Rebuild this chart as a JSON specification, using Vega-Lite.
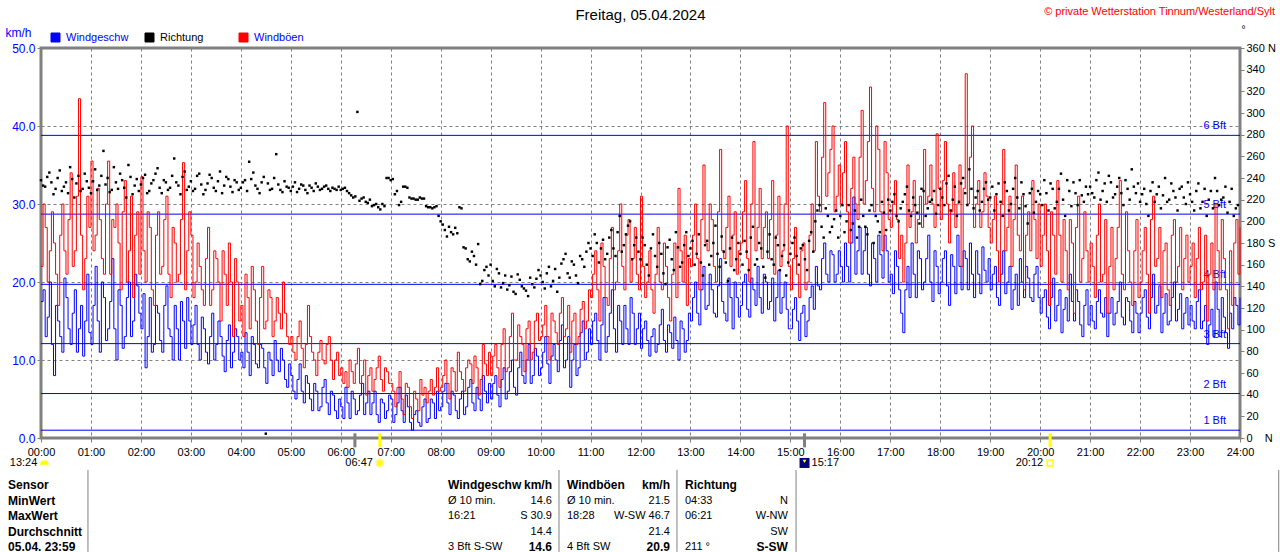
{
  "$schema": "https://vega.github.io/schema/vega-lite/v6.json",
  "description": "Wind 05.04.2024, Tinnum/Westerland/Sylt",
  "width": 1199,
  "height": 390,
  "autosize": "none",
  "padding": {"left": 41, "top": 48, "right": 40, "bottom": 114},
  "background": "#ffffff",
  "config": {
    "font": "Liberation Sans",
    "view": {"stroke": "#808080", "strokeWidth": 3},
    "axis": {
      "domain": false,
      "tickColor": "#808080",
      "tickSize": 4,
      "labelFont": "Liberation Sans",
      "labelFontSize": 11,
      "labelColor": "#000000",
      "labelFlush": false,
      "labelOverlap": false,
      "gridColor": "#808080",
      "gridDash": [3, 3],
      "gridOpacity": 1,
      "gridWidth": 1,
      "titleFont": "Liberation Sans",
      "titleFontWeight": "normal"
    }
  },
  "data": {"values": [{}]},
  "datasets": {
    "bft": [
      {"b": "1 Bft", "v": 1},
      {"b": "2 Bft", "v": 5.7},
      {"b": "3 Bft", "v": 12.1},
      {"b": "4 Bft", "v": 19.7},
      {"b": "5 Bft", "v": 28.7},
      {"b": "6 Bft", "v": 38.8}
    ],
    "events": [
      {"t": 377, "kind": "Mond"},
      {"t": 917, "kind": "Mond"},
      {"t": 407, "kind": "Sonne"},
      {"t": 1212, "kind": "Sonne"}
    ],
    "labels": [
      {"t": 4, "txt": "13:24"},
      {"t": 407, "txt": "06:47"},
      {"t": 917, "txt": "15:17"},
      {"t": 1212, "txt": "20:12"}
    ],
    "table": [
      {"row": "Sensor", "wgL": "Windgeschw", "wgR": "km/h", "wbL": "Windböen", "wbR": "km/h", "rL": "Richtung", "rR": ""},
      {"row": "MinWert", "wgL": "Ø 10 min.", "wgR": "14.6", "wbL": "Ø 10 min.", "wbR": "21.5", "rL": "\u00a004:33", "rR": "N"},
      {"row": "MaxWert", "wgL": "\u00a0\u00a016:21", "wgR": "S 30.9", "wbL": "\u00a018:28", "wbR": "W-SW 46.7", "rL": "\u00a006:21", "rR": "W-NW"},
      {"row": "Durchschnitt", "wgL": "", "wgR": "14.4", "wbL": "", "wbR": "21.4", "rL": "", "rR": "SW"},
      {"row": "05.04. 23:59", "wgL": "\u00a0\u00a03 Bft S-SW", "wgR": "14.6", "wbL": "\u00a04 Bft SW", "wbR": "20.9", "rL": "\u00a0211 °", "rR": "S-SW"}
    ],
    "wind": [
      {"m":0,"s":17.5,"g":22,"d":238},{"m":5,"s":13,"g":27,"d":232},{"m":10,"s":20,"g":24,"d":245},{"m":15,"s":8,"g":25,"d":225},
      {"m":20,"s":15,"g":17,"d":240},{"m":25,"s":11,"g":30,"d":228},{"m":30,"s":18,"g":21,"d":236},{"m":35,"s":12,"g":34,"d":250},
      {"m":40,"s":19,"g":24,"d":222},{"m":45,"s":14,"g":43.5,"d":242},{"m":50,"s":10.5,"g":19,"d":230},{"m":55,"s":21,"g":31,"d":237},
      {"m":60,"s":12,"g":35.5,"d":226},{"m":65,"s":22,"g":26,"d":248},{"m":70,"s":11,"g":28,"d":233},{"m":75,"s":18,"g":21,"d":265},
      {"m":80,"s":14,"g":35.5,"d":240},{"m":85,"s":23,"g":28,"d":229},{"m":90,"s":10,"g":30,"d":236},{"m":95,"s":17,"g":19,"d":244},
      {"m":100,"s":13,"g":33,"d":231},{"m":105,"s":20,"g":24,"d":252},{"m":110,"s":15,"g":18,"d":225},{"m":115,"s":19.5,"g":29,"d":239},
      {"m":120,"s":14,"g":33.5,"d":234},{"m":125,"s":9,"g":20,"d":243},{"m":130,"s":18,"g":27,"d":228},{"m":135,"s":12,"g":17,"d":238},
      {"m":140,"s":16,"g":29,"d":249},{"m":145,"s":11,"g":22,"d":226},{"m":150,"s":19.5,"g":31,"d":236},{"m":155,"s":13,"g":18,"d":231},
      {"m":160,"s":17,"g":25,"d":258},{"m":165,"s":10,"g":21,"d":233},{"m":170,"s":15,"g":35.3,"d":241},{"m":175,"s":18,"g":24,"d":229},
      {"m":180,"s":12,"g":26,"d":237},{"m":185,"s":17,"g":20,"d":230},{"m":190,"s":10,"g":22,"d":244},{"m":195,"s":14,"g":17,"d":225},
      {"m":200,"s":9.5,"g":27,"d":235},{"m":205,"s":16,"g":19,"d":240},{"m":210,"s":12,"g":23,"d":228},{"m":215,"s":13,"g":15,"d":246},
      {"m":220,"s":8.5,"g":21,"d":233},{"m":225,"s":14.5,"g":25,"d":239},{"m":230,"s":11,"g":13,"d":227},{"m":235,"s":13,"g":20,"d":236},
      {"m":240,"s":11,"g":17,"d":231},{"m":245,"s":13.5,"g":21,"d":238},{"m":250,"s":8,"g":14,"d":255},{"m":255,"s":12,"g":19,"d":245},
      {"m":260,"s":9,"g":12,"d":230},{"m":265,"s":11.5,"g":22,"d":236},{"m":270,"s":7,"g":15,"d":4},{"m":275,"s":10,"g":18,"d":229},
      {"m":280,"s":12.5,"g":15,"d":240},{"m":285,"s":8.5,"g":16,"d":234},{"m":290,"s":10,"g":20,"d":227},{"m":295,"s":6.5,"g":13,"d":232},
      {"m":300,"s":8,"g":13,"d":228},{"m":305,"s":5,"g":10,"d":236},{"m":310,"s":9.5,"g":15,"d":230},{"m":315,"s":4.5,"g":9,"d":233},
      {"m":320,"s":7,"g":17,"d":226},{"m":325,"s":3.5,"g":11,"d":231},{"m":330,"s":6,"g":8,"d":235},{"m":335,"s":4,"g":12.5,"d":229},
      {"m":340,"s":7.5,"g":9.5,"d":232},{"m":345,"s":3,"g":13,"d":230},{"m":350,"s":5.5,"g":7.5,"d":231},{"m":355,"s":2.5,"g":11,"d":229},
      {"m":360,"s":4,"g":9,"d":229},{"m":365,"s":6.5,"g":8.5,"d":231},{"m":370,"s":2.5,"g":10,"d":226},{"m":375,"s":5,"g":7,"d":222},
      {"m":380,"s":3.5,"g":11.5,"d":301},{"m":385,"s":7,"g":8,"d":221},{"m":390,"s":4.5,"g":5.5,"d":218},{"m":395,"s":3,"g":9,"d":220},
      {"m":400,"s":6,"g":7.5,"d":215},{"m":405,"s":2,"g":10.5,"d":213},{"m":410,"s":4.5,"g":6,"d":216},{"m":415,"s":3.5,"g":8.5,"d":240},
      {"m":420,"s":5,"g":7,"d":238},{"m":425,"s":3,"g":4,"d":225},{"m":430,"s":6.5,"g":8.5,"d":215},{"m":435,"s":2,"g":3,"d":232},
      {"m":440,"s":4,"g":6.5,"d":231},{"m":445,"s":1,"g":2.5,"d":221},{"m":450,"s":3.5,"g":5,"d":220},{"m":455,"s":1.5,"g":7.5,"d":222},
      {"m":460,"s":5,"g":6.5,"d":221},{"m":465,"s":2.5,"g":6,"d":213},{"m":470,"s":4.5,"g":5.5,"d":212},{"m":475,"s":6,"g":9,"d":214},
      {"m":480,"s":4,"g":6.5,"d":200},{"m":485,"s":7,"g":10,"d":192},{"m":490,"s":3,"g":5,"d":195},{"m":495,"s":5.5,"g":8.5,"d":188},
      {"m":500,"s":2.5,"g":11,"d":189},{"m":505,"s":6,"g":7.5,"d":212},{"m":510,"s":4,"g":9,"d":175},{"m":515,"s":7.5,"g":9.5,"d":163},
      {"m":520,"s":3.5,"g":10.5,"d":168},{"m":525,"s":5,"g":5.5,"d":179},{"m":530,"s":8,"g":12,"d":145},{"m":535,"s":4.5,"g":8,"d":158},
      {"m":540,"s":5,"g":8,"d":160},{"m":545,"s":8,"g":12,"d":140},{"m":550,"s":4,"g":6.5,"d":152},{"m":555,"s":9,"g":14,"d":143},
      {"m":560,"s":6,"g":9,"d":137},{"m":565,"s":10,"g":16,"d":149},{"m":570,"s":5.5,"g":10,"d":133},{"m":575,"s":11,"g":13,"d":146},
      {"m":580,"s":7,"g":8.5,"d":138},{"m":585,"s":12,"g":15,"d":131},{"m":590,"s":8,"g":11,"d":142},{"m":595,"s":10.5,"g":16,"d":147},
      {"m":600,"s":9,"g":13,"d":150},{"m":605,"s":13,"g":17,"d":138},{"m":610,"s":7,"g":10,"d":158},{"m":615,"s":12,"g":15,"d":145},
      {"m":620,"s":8.5,"g":12,"d":135},{"m":625,"s":14.5,"g":18,"d":161},{"m":630,"s":10,"g":14,"d":170},{"m":635,"s":6.5,"g":11,"d":148},
      {"m":640,"s":12,"g":16,"d":160},{"m":645,"s":9,"g":13,"d":143},{"m":650,"s":15,"g":17.5,"d":165},{"m":655,"s":11,"g":15,"d":172},
      {"m":660,"s":12,"g":18,"d":175},{"m":665,"s":16,"g":24,"d":188},{"m":670,"s":10,"g":15,"d":162},{"m":675,"s":18,"g":22,"d":183},
      {"m":680,"s":13,"g":17,"d":170},{"m":685,"s":19,"g":27,"d":192},{"m":690,"s":11,"g":20,"d":168},{"m":695,"s":15,"g":30,"d":205},
      {"m":700,"s":17,"g":19,"d":178},{"m":705,"s":12,"g":28,"d":196},{"m":710,"s":16,"g":23,"d":165},{"m":715,"s":14,"g":21,"d":185},
      {"m":720,"s":11.5,"g":31,"d":165},{"m":725,"s":15,"g":18,"d":178},{"m":730,"s":10.5,"g":24,"d":150},{"m":735,"s":14,"g":16,"d":188},
      {"m":740,"s":12,"g":27,"d":158},{"m":745,"s":16.5,"g":19,"d":170},{"m":750,"s":11,"g":22,"d":142},{"m":755,"s":13.5,"g":15,"d":183},
      {"m":760,"s":15.5,"g":25,"d":155},{"m":765,"s":10,"g":32,"d":176},{"m":770,"s":14,"g":20,"d":162},{"m":775,"s":12.5,"g":17,"d":190},
      {"m":780,"s":15,"g":22,"d":175},{"m":785,"s":20,"g":30,"d":160},{"m":790,"s":14.5,"g":19,"d":188},{"m":795,"s":22,"g":35,"d":150},
      {"m":800,"s":17,"g":24,"d":182},{"m":805,"s":19,"g":28,"d":168},{"m":810,"s":15.5,"g":20,"d":196},{"m":815,"s":23,"g":37,"d":158},
      {"m":820,"s":16,"g":23,"d":172},{"m":825,"s":20.5,"g":31,"d":145},{"m":830,"s":14,"g":26,"d":185},{"m":835,"s":18,"g":21,"d":165},
      {"m":840,"s":17,"g":25,"d":170},{"m":845,"s":21,"g":33,"d":182},{"m":850,"s":15.5,"g":20,"d":155},{"m":855,"s":19,"g":38,"d":195},
      {"m":860,"s":22,"g":27,"d":165},{"m":865,"s":16,"g":23,"d":175},{"m":870,"s":20,"g":29,"d":148},{"m":875,"s":17.5,"g":28,"d":188},
      {"m":880,"s":15,"g":21,"d":160},{"m":885,"s":21.5,"g":31,"d":178},{"m":890,"s":18,"g":24,"d":168},{"m":895,"s":16.5,"g":40,"d":150},
      {"m":900,"s":14,"g":19,"d":170},{"m":905,"s":18,"g":27,"d":185},{"m":910,"s":12.5,"g":18,"d":160},{"m":915,"s":17,"g":25,"d":178},
      {"m":920,"s":15,"g":20,"d":155},{"m":925,"s":19.5,"g":30,"d":190},{"m":930,"s":22,"g":38,"d":200},{"m":935,"s":19,"g":29,"d":215},
      {"m":940,"s":25,"g":43,"d":185},{"m":945,"s":20,"g":34,"d":205},{"m":950,"s":23.5,"g":40,"d":195},{"m":955,"s":21,"g":31,"d":210},
      {"m":960,"s":22,"g":30,"d":205},{"m":965,"s":25,"g":38,"d":190},{"m":970,"s":20,"g":25,"d":215},{"m":975,"s":30.9,"g":36,"d":198},
      {"m":980,"s":24,"g":28,"d":185},{"m":985,"s":21,"g":42,"d":220},{"m":990,"s":27,"g":33,"d":195},{"m":995,"s":19.5,"g":45,"d":210},
      {"m":1000,"s":23,"g":29,"d":180},{"m":1005,"s":26,"g":37,"d":200},{"m":1010,"s":20.5,"g":24,"d":218},{"m":1015,"s":24,"g":34,"d":192},
      {"m":1020,"s":21,"g":27,"d":210},{"m":1025,"s":24,"g":33,"d":225},{"m":1030,"s":19,"g":23,"d":200},{"m":1035,"s":13.5,"g":20,"d":218},
      {"m":1040,"s":22,"g":35,"d":232},{"m":1045,"s":25,"g":29,"d":205},{"m":1050,"s":18,"g":25,"d":215},{"m":1055,"s":23,"g":31,"d":198},
      {"m":1060,"s":20,"g":37,"d":228},{"m":1065,"s":26,"g":31,"d":212},{"m":1070,"s":17.5,"g":30,"d":220},{"m":1075,"s":22,"g":39,"d":207},
      {"m":1080,"s":20,"g":28,"d":230},{"m":1085,"s":24,"g":38,"d":215},{"m":1090,"s":17,"g":25,"d":242},{"m":1095,"s":22,"g":34,"d":220},
      {"m":1100,"s":26,"g":30,"d":205},{"m":1105,"s":19,"g":22,"d":235},{"m":1110,"s":23,"g":46.7,"d":226},{"m":1115,"s":25,"g":36,"d":248},
      {"m":1120,"s":18,"g":27,"d":212},{"m":1125,"s":21,"g":33,"d":228},{"m":1130,"s":24.5,"g":29,"d":218},{"m":1135,"s":20,"g":31,"d":236},
      {"m":1140,"s":19,"g":25,"d":222},{"m":1145,"s":22,"g":31,"d":210},{"m":1150,"s":17,"g":20,"d":235},{"m":1155,"s":24,"g":37,"d":205},
      {"m":1160,"s":20,"g":27,"d":228},{"m":1165,"s":16.5,"g":22,"d":216},{"m":1170,"s":21,"g":35,"d":240},{"m":1175,"s":23,"g":24,"d":212},
      {"m":1180,"s":18,"g":19,"d":225},{"m":1185,"s":20.5,"g":29,"d":198},{"m":1190,"s":17.5,"g":33,"d":230},{"m":1195,"s":22,"g":23,"d":218},
      {"m":1200,"s":16,"g":22,"d":225},{"m":1205,"s":19,"g":30,"d":238},{"m":1210,"s":14,"g":17,"d":210},{"m":1215,"s":20.5,"g":26,"d":230},
      {"m":1220,"s":17,"g":33,"d":218},{"m":1225,"s":13.5,"g":20,"d":244},{"m":1230,"s":18,"g":24,"d":205},{"m":1235,"s":21,"g":28,"d":228},
      {"m":1240,"s":15,"g":16,"d":236},{"m":1245,"s":17.5,"g":31,"d":215},{"m":1250,"s":13,"g":23,"d":224},{"m":1255,"s":19,"g":24,"d":232},
      {"m":1260,"s":17,"g":25,"d":232},{"m":1265,"s":14,"g":18,"d":222},{"m":1270,"s":19,"g":30,"d":245},{"m":1275,"s":15.5,"g":21,"d":228},
      {"m":1280,"s":13,"g":16,"d":218},{"m":1285,"s":18,"g":27,"d":236},{"m":1290,"s":16,"g":23,"d":225},{"m":1295,"s":20,"g":33,"d":240},
      {"m":1300,"s":14.5,"g":19,"d":215},{"m":1305,"s":17.5,"g":24,"d":230},{"m":1310,"s":13.5,"g":17,"d":248},{"m":1315,"s":16,"g":28,"d":226},
      {"m":1320,"s":16,"g":20,"d":218},{"m":1325,"s":19,"g":27,"d":230},{"m":1330,"s":14,"g":16,"d":205},{"m":1335,"s":21,"g":31,"d":236},
      {"m":1340,"s":17,"g":23,"d":225},{"m":1345,"s":13.5,"g":18,"d":212},{"m":1350,"s":18.5,"g":25,"d":240},{"m":1355,"s":15,"g":17,"d":220},
      {"m":1360,"s":20,"g":28,"d":228},{"m":1365,"s":16.5,"g":22,"d":210},{"m":1370,"s":14,"g":19,"d":232},{"m":1375,"s":18,"g":26,"d":216},
      {"m":1380,"s":17,"g":22,"d":225},{"m":1385,"s":14,"g":18,"d":210},{"m":1390,"s":19,"g":27,"d":235},{"m":1395,"s":15,"g":20,"d":218},
      {"m":1400,"s":12,"g":15,"d":205},{"m":1405,"s":16.5,"g":25,"d":228},{"m":1410,"s":20,"g":30,"d":240},{"m":1415,"s":13,"g":19,"d":215},
      {"m":1420,"s":15.5,"g":23,"d":222},{"m":1425,"s":11.5,"g":14,"d":208},{"m":1430,"s":14,"g":17,"d":230},{"m":1435,"s":17,"g":28,"d":212},
      {"m":1440,"s":18,"g":27},
      {"m":2.5,"s":19,"g":30,"d":233},{"m":7.5,"s":15.5,"g":20,"d":241},{"m":12.5,"s":12,"g":29,"d":236},{"m":17.5,"s":17,"g":21,"d":230},
      {"m":22.5,"s":13,"g":26,"d":247},{"m":27.5,"s":20.5,"g":24,"d":232},{"m":32.5,"s":14,"g":28,"d":226},{"m":37.5,"s":16,"g":22,"d":239},
      {"m":42.5,"s":11,"g":31,"d":235},{"m":47.5,"s":17,"g":26,"d":228},{"m":52.5,"s":15,"g":23,"d":244},{"m":57.5,"s":13.5,"g":27,"d":231},
      {"m":62.5,"s":17,"g":24,"d":237},{"m":67.5,"s":15,"g":32,"d":229},{"m":72.5,"s":20,"g":23,"d":242},{"m":77.5,"s":12.5,"g":30,"d":234},
      {"m":82.5,"s":17.5,"g":21,"d":227},{"m":87.5,"s":14,"g":27,"d":250},{"m":92.5,"s":19,"g":25,"d":230},{"m":97.5,"s":11.5,"g":29,"d":238},
      {"m":102.5,"s":18,"g":20,"d":222},{"m":107.5,"s":13,"g":31,"d":241},{"m":112.5,"s":21,"g":26,"d":233},{"m":117.5,"s":16,"g":21,"d":228},
      {"m":122.5,"s":18.5,"g":24,"d":240},{"m":127.5,"s":13,"g":29,"d":226},{"m":132.5,"s":11,"g":19,"d":235},{"m":137.5,"s":17,"g":26,"d":244},
      {"m":142.5,"s":12.5,"g":21,"d":231},{"m":147.5,"s":17,"g":28,"d":238},{"m":152.5,"s":14,"g":21,"d":229},{"m":157.5,"s":10,"g":27,"d":242},
      {"m":162.5,"s":14,"g":20,"d":236},{"m":167.5,"s":17.5,"g":28,"d":225},{"m":172.5,"s":11.5,"g":19,"d":246},{"m":177.5,"s":15,"g":29,"d":232},
      {"m":182.5,"s":14.5,"g":18,"d":228},{"m":187.5,"s":12,"g":25,"d":242},{"m":192.5,"s":15.5,"g":19,"d":234},{"m":197.5,"s":11,"g":23,"d":229},
      {"m":202.5,"s":13,"g":17,"d":243},{"m":207.5,"s":10,"g":24,"d":231},{"m":212.5,"s":15,"g":20,"d":237},{"m":217.5,"s":10.5,"g":24,"d":226},
      {"m":222.5,"s":12.5,"g":17,"d":241},{"m":227.5,"s":9,"g":20,"d":232},{"m":232.5,"s":14,"g":23,"d":238},{"m":237.5,"s":10,"g":15,"d":229},
      {"m":242.5,"s":9,"g":13,"d":236},{"m":247.5,"s":11,"g":18,"d":228},{"m":252.5,"s":13,"g":22,"d":239},{"m":257.5,"s":9.5,"g":15,"d":233},
      {"m":262.5,"s":12,"g":18,"d":226},{"m":267.5,"s":9,"g":14,"d":241},{"m":272.5,"s":11,"g":19,"d":235},{"m":277.5,"s":8,"g":13,"d":230},
      {"m":282.5,"s":10,"g":18,"d":262},{"m":287.5,"s":11.5,"g":14,"d":229},{"m":292.5,"s":7.5,"g":16,"d":237},{"m":297.5,"s":9.5,"g":12,"d":231},
      {"m":302.5,"s":6,"g":11,"d":232},{"m":307.5,"s":7.5,"g":13,"d":227},{"m":312.5,"s":6,"g":11.5,"d":234},{"m":317.5,"s":8,"g":12,"d":229},
      {"m":322.5,"s":5,"g":13,"d":233},{"m":327.5,"s":7,"g":10,"d":228},{"m":332.5,"s":3.5,"g":11,"d":232},{"m":337.5,"s":6.5,"g":10,"d":230},
      {"m":342.5,"s":4.5,"g":12,"d":233},{"m":347.5,"s":6,"g":10,"d":228},{"m":352.5,"s":3.5,"g":10,"d":230},{"m":357.5,"s":5,"g":8,"d":232},
      {"m":362.5,"s":2.5,"g":7,"d":230},{"m":367.5,"s":4.5,"g":6.5,"d":228},{"m":372.5,"s":6,"g":8.5,"d":224},{"m":377.5,"s":3,"g":9.5,"d":223},
      {"m":382.5,"s":5.5,"g":7,"d":219},{"m":387.5,"s":3,"g":10,"d":222},{"m":392.5,"s":6,"g":8,"d":217},{"m":397.5,"s":4.5,"g":6,"d":214},
      {"m":402.5,"s":3,"g":9,"d":216},{"m":407.5,"s":5,"g":7.5,"d":211},{"m":412.5,"s":2.5,"g":9,"d":214},{"m":417.5,"s":5.5,"g":7,"d":240},
      {"m":422.5,"s":2,"g":6,"d":239},{"m":427.5,"s":4.5,"g":6.5,"d":228},{"m":432.5,"s":3.5,"g":5,"d":218},{"m":437.5,"s":5.5,"g":7,"d":232},
      {"m":442.5,"s":2,"g":4,"d":222},{"m":447.5,"s":3,"g":6,"d":221},{"m":452.5,"s":2,"g":3.5,"d":220},{"m":457.5,"s":4,"g":5.5,"d":221},
      {"m":462.5,"s":2,"g":4.5,"d":214},{"m":467.5,"s":5,"g":7.5,"d":213},{"m":472.5,"s":2.5,"g":6.5,"d":213},{"m":477.5,"s":3.5,"g":6,"d":205},
      {"m":482.5,"s":6,"g":8,"d":197},{"m":487.5,"s":4.5,"g":7,"d":186},{"m":492.5,"s":6,"g":9,"d":190},{"m":497.5,"s":3.5,"g":6,"d":194},
      {"m":502.5,"s":5,"g":8.5,"d":213},{"m":507.5,"s":3,"g":6,"d":176},{"m":512.5,"s":6.5,"g":10,"d":165},{"m":517.5,"s":4.5,"g":7,"d":172},
      {"m":522.5,"s":6.5,"g":9,"d":160},{"m":527.5,"s":3.5,"g":7.5,"d":142},{"m":532.5,"s":6,"g":9.5,"d":155},{"m":537.5,"s":7,"g":11,"d":150},
      {"m":542.5,"s":7,"g":10.5,"d":145},{"m":547.5,"s":5.5,"g":9,"d":156},{"m":552.5,"s":7.5,"g":12,"d":139},{"m":557.5,"s":5,"g":8.5,"d":150},
      {"m":562.5,"s":8.5,"g":13,"d":141},{"m":567.5,"s":6.5,"g":10,"d":135},{"m":572.5,"s":9,"g":14.5,"d":151},{"m":577.5,"s":8,"g":12,"d":140},
      {"m":582.5,"s":10,"g":14,"d":136},{"m":587.5,"s":7,"g":10,"d":148},{"m":592.5,"s":11.5,"g":15,"d":139},{"m":597.5,"s":8,"g":12.5,"d":155},
      {"m":602.5,"s":11,"g":14.5,"d":144},{"m":607.5,"s":9.5,"g":13,"d":152},{"m":612.5,"s":10.5,"g":16,"d":140},{"m":617.5,"s":10,"g":13.5,"d":156},
      {"m":622.5,"s":12.5,"g":16,"d":148},{"m":627.5,"s":9,"g":13,"d":165},{"m":632.5,"s":13,"g":17,"d":152},{"m":637.5,"s":10,"g":15,"d":163},
      {"m":642.5,"s":8,"g":12,"d":150},{"m":647.5,"s":13.5,"g":16.5,"d":168},{"m":652.5,"s":10,"g":14,"d":158},{"m":657.5,"s":14,"g":19,"d":180},
      {"m":662.5,"s":15,"g":21,"d":168},{"m":667.5,"s":12.5,"g":19,"d":180},{"m":672.5,"s":14.5,"g":25,"d":175},{"m":677.5,"s":11,"g":18,"d":165},
      {"m":682.5,"s":16,"g":23,"d":185},{"m":687.5,"s":14,"g":19,"d":175},{"m":692.5,"s":17,"g":24,"d":190},{"m":697.5,"s":12,"g":22,"d":172},
      {"m":702.5,"s":14,"g":26,"d":188},{"m":707.5,"s":18,"g":20,"d":200},{"m":712.5,"s":12,"g":27,"d":178},{"m":717.5,"s":16,"g":19,"d":172},
      {"m":722.5,"s":14,"g":22,"d":185},{"m":727.5,"s":12.5,"g":20,"d":160},{"m":732.5,"s":13,"g":19,"d":175},{"m":737.5,"s":11,"g":21,"d":168},
      {"m":742.5,"s":14.5,"g":20,"d":180},{"m":747.5,"s":12.5,"g":25,"d":152},{"m":752.5,"s":14.5,"g":18,"d":176},{"m":757.5,"s":11.5,"g":21,"d":165},
      {"m":762.5,"s":12.5,"g":18,"d":190},{"m":767.5,"s":15,"g":24,"d":158},{"m":772.5,"s":11,"g":26,"d":178},{"m":777.5,"s":16,"g":23,"d":168},
      {"m":782.5,"s":18,"g":26,"d":182},{"m":787.5,"s":16,"g":23,"d":170},{"m":792.5,"s":19,"g":28,"d":162},{"m":797.5,"s":16.5,"g":25,"d":178},
      {"m":802.5,"s":21,"g":30,"d":160},{"m":807.5,"s":16,"g":22,"d":180},{"m":812.5,"s":19.5,"g":29,"d":170},{"m":817.5,"s":17.5,"g":24,"d":186},
      {"m":822.5,"s":15,"g":27,"d":162},{"m":827.5,"s":18,"g":22,"d":175},{"m":832.5,"s":20,"g":29,"d":155},{"m":837.5,"s":15.5,"g":24,"d":180},
      {"m":842.5,"s":20,"g":29,"d":160},{"m":847.5,"s":16.5,"g":23,"d":172},{"m":852.5,"s":20.5,"g":30,"d":185},{"m":857.5,"s":17,"g":24,"d":160},
      {"m":862.5,"s":18,"g":32,"d":180},{"m":867.5,"s":21,"g":27,"d":158},{"m":872.5,"s":16.5,"g":23,"d":172},{"m":877.5,"s":20.5,"g":33,"d":165},
      {"m":882.5,"s":18,"g":26,"d":185},{"m":887.5,"s":16,"g":22,"d":155},{"m":892.5,"s":20,"g":30,"d":178},{"m":897.5,"s":14,"g":22,"d":162},
      {"m":902.5,"s":16.5,"g":23,"d":180},{"m":907.5,"s":15,"g":21,"d":168},{"m":912.5,"s":16,"g":24,"d":175},{"m":917.5,"s":13,"g":19,"d":165},
      {"m":922.5,"s":18,"g":26,"d":182},{"m":927.5,"s":16.5,"g":24,"d":172},{"m":932.5,"s":19.5,"g":31,"d":210},{"m":937.5,"s":23,"g":36,"d":195},
      {"m":942.5,"s":21,"g":31,"d":212},{"m":947.5,"s":24,"g":37,"d":190},{"m":952.5,"s":20,"g":29,"d":202},{"m":957.5,"s":24,"g":35,"d":185},
      {"m":962.5,"s":20,"g":34,"d":215},{"m":967.5,"s":22,"g":29,"d":200},{"m":972.5,"s":25,"g":32,"d":192},{"m":977.5,"s":21,"g":30,"d":210},
      {"m":982.5,"s":27,"g":36,"d":195},{"m":987.5,"s":24,"g":30,"d":205},{"m":992.5,"s":21,"g":38,"d":188},{"m":997.5,"s":25,"g":32,"d":215},
      {"m":1002.5,"s":20,"g":40,"d":205},{"m":1007.5,"s":23.5,"g":29,"d":190},{"m":1012.5,"s":26,"g":38,"d":208},{"m":1017.5,"s":20,"g":28,"d":220},
      {"m":1022.5,"s":18.5,"g":30,"d":218},{"m":1027.5,"s":22,"g":28,"d":205},{"m":1032.5,"s":16,"g":26,"d":212},{"m":1037.5,"s":19,"g":25,"d":225},
      {"m":1042.5,"s":18,"g":27,"d":210},{"m":1047.5,"s":21,"g":33,"d":222},{"m":1052.5,"s":24,"g":28,"d":208},{"m":1057.5,"s":19,"g":27,"d":230},
      {"m":1062.5,"s":23,"g":30,"d":205},{"m":1067.5,"s":20,"g":35,"d":218},{"m":1072.5,"s":24,"g":27,"d":228},{"m":1077.5,"s":18.5,"g":32,"d":215},
      {"m":1082.5,"s":23,"g":33,"d":222},{"m":1087.5,"s":19.5,"g":30,"d":235},{"m":1092.5,"s":23.5,"g":29,"d":210},{"m":1097.5,"s":18.5,"g":27,"d":232},
      {"m":1102.5,"s":22,"g":35,"d":218},{"m":1107.5,"s":24,"g":32,"d":240},{"m":1112.5,"s":19,"g":30,"d":215},{"m":1117.5,"s":21,"g":40,"d":230},
      {"m":1122.5,"s":24,"g":30,"d":222},{"m":1127.5,"s":18.5,"g":27,"d":210},{"m":1132.5,"s":21.5,"g":34,"d":230},{"m":1137.5,"s":23,"g":27,"d":220},
      {"m":1142.5,"s":21,"g":28,"d":232},{"m":1147.5,"s":18,"g":24,"d":225},{"m":1152.5,"s":21,"g":30,"d":218},{"m":1157.5,"s":18.5,"g":24,"d":236},
      {"m":1162.5,"s":22,"g":31,"d":210},{"m":1167.5,"s":19,"g":28,"d":230},{"m":1172.5,"s":17,"g":26,"d":222},{"m":1177.5,"s":20,"g":31,"d":236},
      {"m":1182.5,"s":22,"g":26,"d":214},{"m":1187.5,"s":18,"g":24,"d":226},{"m":1192.5,"s":21,"g":28,"d":208},{"m":1197.5,"s":18,"g":30,"d":228},
      {"m":1202.5,"s":18,"g":26,"d":215},{"m":1207.5,"s":15.5,"g":24,"d":226},{"m":1212.5,"s":18,"g":29,"d":235},{"m":1217.5,"s":15,"g":21,"d":212},
      {"m":1222.5,"s":19,"g":26,"d":230},{"m":1227.5,"s":16.5,"g":28,"d":220},{"m":1232.5,"s":15,"g":19,"d":238},{"m":1237.5,"s":17.5,"g":25,"d":214},
      {"m":1242.5,"s":19,"g":27,"d":226},{"m":1247.5,"s":14.5,"g":20,"d":238},{"m":1252.5,"s":17,"g":29,"d":218},{"m":1257.5,"s":14.5,"g":20,"d":225},
      {"m":1262.5,"s":15,"g":22,"d":226},{"m":1267.5,"s":17.5,"g":26,"d":238},{"m":1272.5,"s":16,"g":20,"d":220},{"m":1277.5,"s":18,"g":28,"d":235},
      {"m":1282.5,"s":16,"g":22,"d":242},{"m":1287.5,"s":14.5,"g":19,"d":222},{"m":1292.5,"s":17.5,"g":27,"d":232},{"m":1297.5,"s":15.5,"g":21,"d":226},
      {"m":1302.5,"s":18,"g":29,"d":238},{"m":1307.5,"s":15,"g":20,"d":220},{"m":1312.5,"s":17.5,"g":24,"d":232},{"m":1317.5,"s":13.5,"g":18,"d":235},
      {"m":1322.5,"s":18,"g":24,"d":225},{"m":1327.5,"s":15.5,"g":21,"d":216},{"m":1332.5,"s":18,"g":28,"d":228},{"m":1337.5,"s":16,"g":22,"d":218},
      {"m":1342.5,"s":19.5,"g":27,"d":232},{"m":1347.5,"s":16,"g":24,"d":224},{"m":1352.5,"s":14.5,"g":19,"d":218},{"m":1357.5,"s":18,"g":26,"d":235},
      {"m":1362.5,"s":15,"g":20,"d":222},{"m":1367.5,"s":18.5,"g":27,"d":230},{"m":1372.5,"s":16,"g":23,"d":222},{"m":1377.5,"s":14.5,"g":20,"d":236},
      {"m":1382.5,"s":15,"g":25,"d":218},{"m":1387.5,"s":17.5,"g":23,"d":228},{"m":1392.5,"s":14,"g":19,"d":212},{"m":1397.5,"s":17,"g":26,"d":230},
      {"m":1402.5,"s":14.5,"g":21,"d":220},{"m":1407.5,"s":13,"g":19,"d":212},{"m":1412.5,"s":16.5,"g":24,"d":228},{"m":1417.5,"s":18,"g":28,"d":220},
      {"m":1422.5,"s":13.5,"g":19,"d":232},{"m":1427.5,"s":16,"g":24,"d":218},{"m":1432.5,"s":18,"g":25,"d":205},{"m":1437.5,"s":14.5,"g":21,"d":215}
    ]
  },
  "layer": [
    {
      "layer": [
        {
          "data": {"name": "bft"},
          "mark": {"type": "rule", "color": "#0000ff", "strokeWidth": 1},
          "encoding": {"y": {"field": "v", "type": "quantitative"}}
        },
        {
          "data": {"name": "bft"},
          "mark": {"type": "text", "color": "#0000ff", "fontSize": 11, "align": "right", "baseline": "middle", "dx": -14, "dy": -9},
          "encoding": {
            "x": {"datum": 1440},
            "y": {"field": "v", "type": "quantitative"},
            "text": {"field": "b"}
          }
        },
        {
          "data": {"name": "wind"},
          "mark": {"type": "line", "interpolate": "step-after", "strokeWidth": 1},
          "encoding": {
            "x": {
              "field": "m",
              "type": "quantitative",
              "scale": {"domain": [0, 1440], "nice": false, "zero": false},
              "axis": {
                "values": [0, 60, 120, 180, 240, 300, 360, 420, 480, 540, 600, 660, 720, 780, 840, 900, 960, 1020, 1080, 1140, 1200, 1260, 1320, 1380, 1440],
                "labelExpr": "(datum.value < 600 ? '0' : '') + (datum.value / 60) + ':00'",
                "grid": true,
                "title": null,
                "labelPadding": 4
              }
            },
            "y": {
              "field": "s",
              "type": "quantitative",
              "scale": {"domain": [0, 50], "nice": false, "zero": false},
              "axis": {
                "values": [0, 5, 10, 15, 20, 25, 30, 35, 40, 45, 50],
                "format": ".1f",
                "labelColor": "#0000ff",
                "labelFontSize": 12,
                "labelPadding": 2,
                "grid": true,
                "title": "km/h",
                "titleAngle": 0,
                "titleAlign": "left",
                "titleBaseline": "middle",
                "titleX": -36,
                "titleY": -16,
                "titleColor": "#0000ff",
                "titleFontSize": 12
              }
            },
            "color": {
              "datum": "Windgeschw",
              "type": "nominal",
              "scale": {"domain": ["Windgeschw", "Richtung", "Windböen"], "range": ["#0000ff", "#000000", "#ff0000"]},
              "legend": {
                "orient": "none",
                "legendX": 9,
                "legendY": -16,
                "direction": "horizontal",
                "columns": 3,
                "gridAlign": "all",
                "columnPadding": 14,
                "title": null,
                "symbolType": "square",
                "symbolSize": 81,
                "symbolStrokeColor": "#000000",
                "symbolStrokeWidth": 1,
                "labelFontSize": 11,
                "labelOffset": 5,
                "encode": {
                  "symbols": {"update": {"fill": {"scale": "color", "field": "value"}, "stroke": {"value": "#000000"}, "strokeWidth": {"value": 1}, "opacity": {"value": 1}}},
                  "labels": {"update": {"fill": {"signal": "datum.label === 'Richtung' ? '#000000' : '#0000ff'"}}}
                }
              }
            }
          }
        },
        {
          "data": {"name": "wind"},
          "mark": {"type": "line", "interpolate": "step-after", "strokeWidth": 1},
          "encoding": {
            "x": {"field": "m", "type": "quantitative"},
            "y": {"field": "g", "type": "quantitative"},
            "color": {"datum": "Windböen", "type": "nominal"}
          }
        },
        {
          "mark": {"type": "text", "fontSize": 15, "color": "#000000", "align": "center", "baseline": "middle"},
          "encoding": {"x": {"datum": 720}, "y": {"datum": 54.2}, "text": {"value": "Freitag, 05.04.2024"}}
        },
        {
          "mark": {"type": "text", "fontSize": 11, "color": "#ff0000", "align": "right", "baseline": "middle", "dx": 35},
          "encoding": {"x": {"datum": 1440}, "y": {"datum": 54.6}, "text": {"value": "© private Wetterstation Tinnum/Westerland/Sylt"}}
        },
        {
          "data": {"name": "events"},
          "mark": {"type": "rule", "strokeWidth": 3},
          "encoding": {
            "x": {"field": "t", "type": "quantitative"},
            "y": {"datum": 0.6},
            "y2": {"datum": -1.2},
            "color": {"condition": {"test": "datum.kind === 'Sonne'", "value": "#ffff00"}, "value": "#808080"}
          }
        },
        {
          "data": {"name": "labels"},
          "transform": [{"filter": "datum.txt !== '15:17'"}],
          "mark": {"type": "text", "align": "right", "baseline": "middle", "dx": -7, "fontSize": 11, "color": "#000000"},
          "encoding": {"x": {"field": "t", "type": "quantitative"}, "y": {"datum": -3.2}, "text": {"field": "txt"}}
        },
        {
          "data": {"name": "labels"},
          "transform": [{"filter": "datum.txt === '15:17'"}],
          "mark": {"type": "text", "align": "left", "baseline": "middle", "dx": 7, "fontSize": 11, "color": "#000000"},
          "encoding": {"x": {"field": "t", "type": "quantitative"}, "y": {"datum": -3.2}, "text": {"field": "txt"}}
        },
        {
          "data": {"name": "labels"},
          "transform": [{"filter": "datum.txt === '13:24'"}],
          "mark": {"type": "point", "shape": "M -1 0.4 A 1 1 0 0 1 1 0.4 Z", "filled": true, "size": 80, "color": "#ffff00", "opacity": 1},
          "encoding": {"x": {"field": "t", "type": "quantitative"}, "y": {"datum": -3.2}}
        },
        {
          "data": {"name": "labels"},
          "transform": [{"filter": "datum.txt === '06:47'"}],
          "mark": {"type": "point", "shape": "circle", "filled": true, "size": 55, "color": "#ffff00", "stroke": "#fff59a", "strokeWidth": 2, "opacity": 1},
          "encoding": {"x": {"field": "t", "type": "quantitative"}, "y": {"datum": -3.2}}
        },
        {
          "data": {"name": "labels"},
          "transform": [{"filter": "datum.txt === '15:17'"}],
          "mark": {"type": "point", "shape": "square", "filled": true, "size": 100, "color": "#000080", "opacity": 1},
          "encoding": {"x": {"field": "t", "type": "quantitative"}, "y": {"datum": -3.2}}
        },
        {
          "data": {"name": "labels"},
          "transform": [{"filter": "datum.txt === '15:17'"}],
          "mark": {"type": "point", "shape": "triangle-down", "filled": true, "size": 14, "color": "#ffff00", "opacity": 1},
          "encoding": {"x": {"field": "t", "type": "quantitative"}, "y": {"datum": -3.0}}
        },
        {
          "data": {"name": "labels"},
          "transform": [{"filter": "datum.txt === '20:12'"}],
          "mark": {"type": "point", "shape": "square", "filled": false, "size": 36, "color": "#ffff00", "strokeWidth": 1.5, "opacity": 1},
          "encoding": {"x": {"field": "t", "type": "quantitative"}, "y": {"datum": -3.2}}
        },
        {
          "mark": {"type": "rule", "color": "#808080", "strokeWidth": 1},
          "encoding": {"x": {"datum": 56.4}, "y": {"datum": -4.1}, "y2": {"datum": -14.6}}
        },
        {
          "mark": {"type": "rule", "color": "#808080", "strokeWidth": 1},
          "encoding": {"x": {"datum": 622.1}, "y": {"datum": -4.1}, "y2": {"datum": -14.6}}
        },
        {
          "mark": {"type": "rule", "color": "#808080", "strokeWidth": 1},
          "encoding": {"x": {"datum": 763.8}, "y": {"datum": -4.1}, "y2": {"datum": -14.6}}
        },
        {
          "mark": {"type": "rule", "color": "#808080", "strokeWidth": 1},
          "encoding": {"x": {"datum": 906.8}, "y": {"datum": -4.1}, "y2": {"datum": -14.6}}
        },
        {
          "mark": {"type": "rule", "color": "#808080", "strokeWidth": 1},
          "encoding": {"x": {"datum": 1486.5}, "y": {"datum": -4.1}, "y2": {"datum": -14.6}}
        }
      ]
    },
    {
      "data": {"name": "wind"},
      "transform": [{"filter": "isValid(datum.d)"}],
      "mark": {"type": "square", "size": 6, "opacity": 1},
      "encoding": {
        "x": {"field": "m", "type": "quantitative"},
        "y": {
          "field": "d",
          "type": "quantitative",
          "scale": {"domain": [0, 360], "nice": false, "zero": false},
          "axis": {
            "orient": "right",
            "values": [0, 20, 40, 60, 80, 100, 120, 140, 160, 180, 200, 220, 240, 260, 280, 300, 320, 340, 360],
            "labelExpr": "datum.value === 360 ? '360 N' : datum.value === 180 ? '180 S' : datum.value === 0 ? '0\u00a0\u00a0\u00a0\u00a0N' : '' + datum.value",
            "grid": false,
            "labelPadding": 2,
            "title": "°",
            "titleAngle": 0,
            "titleAlign": "left",
            "titleBaseline": "middle",
            "titleX": 1,
            "titleY": -19,
            "titleFontSize": 10
          }
        },
        "color": {"datum": "Richtung", "type": "nominal"}
      }
    },
    {
      "data": {"name": "table"},
      "encoding": {
        "y": {
          "field": "row",
          "type": "nominal",
          "scale": {"type": "point", "domain": ["Sensor", "MinWert", "MaxWert", "Durchschnitt", "05.04. 23:59"], "range": [437, 499], "padding": 0},
          "axis": null
        }
      },
      "layer": [
        {
          "mark": {"type": "text", "align": "left", "baseline": "middle", "fontWeight": "bold", "fontSize": 12, "color": "#000000"},
          "encoding": {"x": {"datum": -39.6}, "text": {"field": "row"}}
        },
        {
          "transform": [{"filter": "datum.row === 'Sensor'"}],
          "mark": {"type": "text", "align": "left", "baseline": "middle", "fontWeight": "bold", "fontSize": 12, "color": "#000000"},
          "encoding": {"x": {"datum": 488.8}, "text": {"field": "wgL"}}
        },
        {
          "transform": [{"filter": "datum.row !== 'Sensor'"}],
          "mark": {"type": "text", "align": "left", "baseline": "middle", "fontSize": 11, "color": "#000000"},
          "encoding": {"x": {"datum": 488.8}, "text": {"field": "wgL"}}
        },
        {
          "transform": [{"filter": "datum.row === 'Sensor' || datum.row === '05.04. 23:59'"}],
          "mark": {"type": "text", "align": "right", "baseline": "middle", "fontWeight": "bold", "fontSize": 12, "color": "#000000"},
          "encoding": {"x": {"datum": 613.7}, "text": {"field": "wgR"}}
        },
        {
          "transform": [{"filter": "datum.row !== 'Sensor' && datum.row !== '05.04. 23:59'"}],
          "mark": {"type": "text", "align": "right", "baseline": "middle", "fontSize": 11, "color": "#000000"},
          "encoding": {"x": {"datum": 613.7}, "text": {"field": "wgR"}}
        },
        {
          "transform": [{"filter": "datum.row === 'Sensor'"}],
          "mark": {"type": "text", "align": "left", "baseline": "middle", "fontWeight": "bold", "fontSize": 12, "color": "#000000"},
          "encoding": {"x": {"datum": 631.7}, "text": {"field": "wbL"}}
        },
        {
          "transform": [{"filter": "datum.row !== 'Sensor'"}],
          "mark": {"type": "text", "align": "left", "baseline": "middle", "fontSize": 11, "color": "#000000"},
          "encoding": {"x": {"datum": 631.7}, "text": {"field": "wbL"}}
        },
        {
          "transform": [{"filter": "datum.row === 'Sensor' || datum.row === '05.04. 23:59'"}],
          "mark": {"type": "text", "align": "right", "baseline": "middle", "fontWeight": "bold", "fontSize": 12, "color": "#000000"},
          "encoding": {"x": {"datum": 755.4}, "text": {"field": "wbR"}}
        },
        {
          "transform": [{"filter": "datum.row !== 'Sensor' && datum.row !== '05.04. 23:59'"}],
          "mark": {"type": "text", "align": "right", "baseline": "middle", "fontSize": 11, "color": "#000000"},
          "encoding": {"x": {"datum": 755.4}, "text": {"field": "wbR"}}
        },
        {
          "transform": [{"filter": "datum.row === 'Sensor'"}],
          "mark": {"type": "text", "align": "left", "baseline": "middle", "fontWeight": "bold", "fontSize": 12, "color": "#000000"},
          "encoding": {"x": {"datum": 773.4}, "text": {"field": "rL"}}
        },
        {
          "transform": [{"filter": "datum.row !== 'Sensor'"}],
          "mark": {"type": "text", "align": "left", "baseline": "middle", "fontSize": 11, "color": "#000000"},
          "encoding": {"x": {"datum": 773.4}, "text": {"field": "rL"}}
        },
        {
          "transform": [{"filter": "datum.row === 'Sensor' || datum.row === '05.04. 23:59'"}],
          "mark": {"type": "text", "align": "right", "baseline": "middle", "fontWeight": "bold", "fontSize": 12, "color": "#000000"},
          "encoding": {"x": {"datum": 897.1}, "text": {"field": "rR"}}
        },
        {
          "transform": [{"filter": "datum.row !== 'Sensor' && datum.row !== '05.04. 23:59'"}],
          "mark": {"type": "text", "align": "right", "baseline": "middle", "fontSize": 11, "color": "#000000"},
          "encoding": {"x": {"datum": 897.1}, "text": {"field": "rR"}}
        }
      ]
    }
  ],
  "resolve": {"scale": {"y": "independent"}}
}
